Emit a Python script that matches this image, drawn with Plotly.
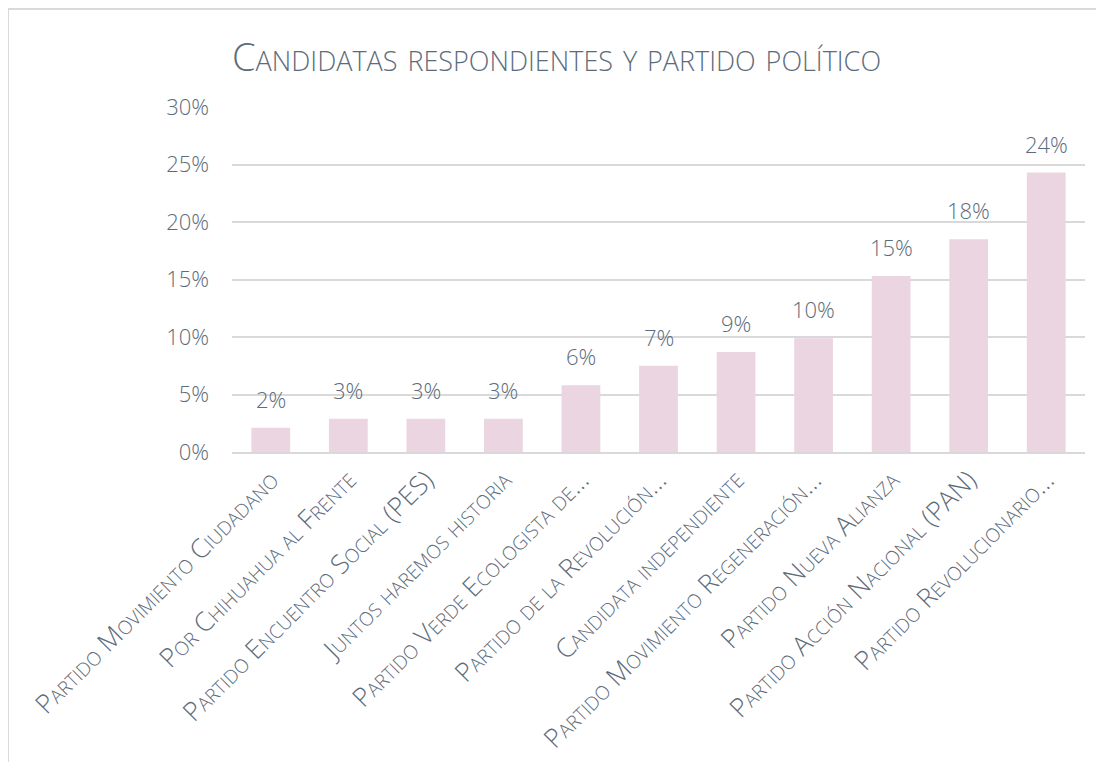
import plotly.graph_objects as go

categories = [
    "Partido Movimiento Ciudadano",
    "Por Chihuahua al Frente",
    "Partido Encuentro Social (PES)",
    "Juntos haremos historia",
    "Partido Verde Ecologista de…",
    "Partido de la Revolución…",
    "Candidata independiente",
    "Partido Movimiento Regeneración…",
    "Partido Nueva Alianza",
    "Partido Acción Nacional (PAN)",
    "Partido Revolucionario…",
]
values = [2.1, 2.9, 2.9, 2.9, 5.8, 7.5, 8.7, 9.9, 15.3, 18.5, 24.3]
value_labels = ["2%", "3%", "3%", "3%", "6%", "7%", "9%", "10%", "15%", "18%", "24%"]
y_ticks = [0, 5, 10, 15, 20, 25, 30]
y_tick_labels = ["0%", "5%", "10%", "15%", "20%", "25%", "30%"]
title_text = "Candidatas respondientes y partido político"

TXT = "#5d6c7b"
FONT = "Open Sans"
WT = 350
W, H = 1088, 754
L, R, T, B = 224, 11, 99, 310

fig = go.Figure()
fig.add_trace(go.Bar(
    x=categories, y=values,
    marker=dict(color="#ebd5e1", line=dict(width=0)),
    hoverinfo="x+y",
))

for c, v, lab in zip(categories, values, value_labels):
    fig.add_annotation(
        x=c, y=v, xref="x", yref="y", text=lab, showarrow=False,
        yanchor="bottom", yshift=12,
        font=dict(family=FONT, size=22, color=TXT, weight=WT),
    )

pw = W - L - R
ph = H - T - B
px = lambda p: (p - L) / pw
py = lambda p: (H - B - p) / ph
line_style = dict(color="#d9d9d9", width=2)
fig.add_shape(type="line", xref="paper", yref="paper",
              x0=px(0), x1=px(W + 10), y0=py(1), y1=py(1), line=line_style)
fig.add_shape(type="line", xref="paper", yref="paper",
              x0=px(0), x1=px(0), y0=py(1), y1=py(H + 10), line=line_style)

fig.update_layout(
    width=W, height=H,
    margin=dict(l=L, r=R, t=T, b=B, pad=0, autoexpand=False),
    paper_bgcolor="white", plot_bgcolor="white",
    bargap=0.5,
    showlegend=False,
    title=dict(
        text=title_text, x=0.0, xref="paper", xanchor="left",
        y=1 - 50 / H, yref="container", yanchor="middle", automargin=False,
        font=dict(family=FONT, size=38, color=TXT, variant="small-caps", weight=WT),
    ),
    xaxis=dict(
        automargin=False,
        tickangle=-45, showgrid=False, showline=True, linecolor="#d9d9d9", linewidth=2,
        ticks="", tickfont=dict(family=FONT, size=26.5, color=TXT, variant="small-caps", weight=WT),
    ),
    yaxis=dict(
        automargin=False,
        range=[0, 30], tickvals=y_ticks, ticktext=y_tick_labels,
        showgrid=True, gridcolor="#d9d9d9", gridwidth=1.5, zeroline=False,
        showline=False, ticks="", ticklabelstandoff=22,
        tickfont=dict(family=FONT, size=22, color=TXT, weight=WT),
    ),
)

fig.write_html("out.html")
